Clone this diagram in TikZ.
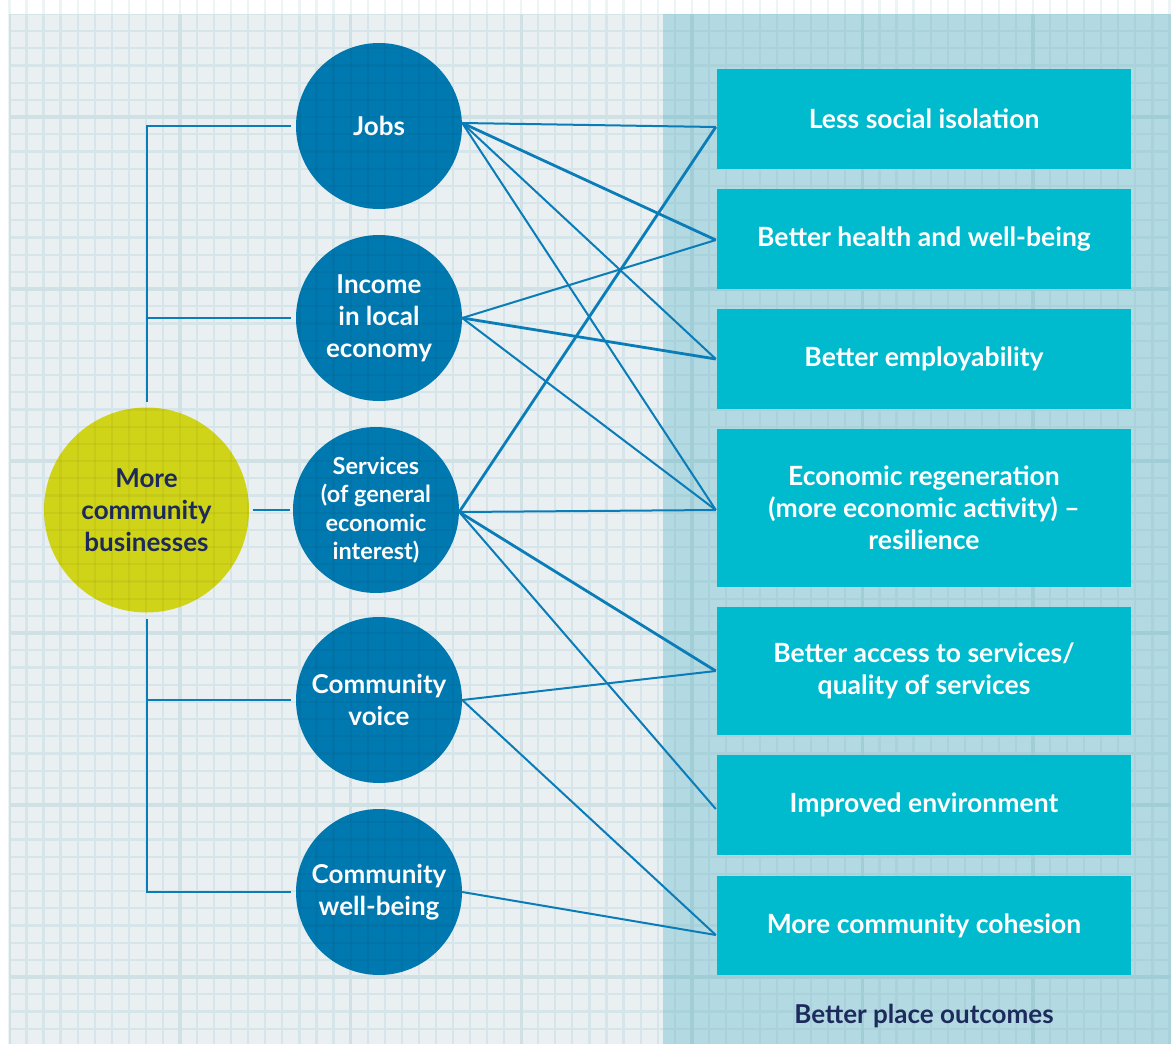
\documentclass[tikz,border=0pt]{standalone}
\usepackage{fontspec}
\setmainfont{Lato}
\definecolor{bgmain}{HTML}{EAF0F2}
\definecolor{gridfaint}{HTML}{EDF4F5}
\definecolor{gridminor}{HTML}{D6E5E9}
\definecolor{gridmajor}{HTML}{D0E1E5}
\definecolor{panel}{HTML}{B3DAE2}
\definecolor{panelgrid}{HTML}{A9D2DB}
\definecolor{panelmajor}{HTML}{A1CDD6}
\definecolor{boxc}{HTML}{00BACE}
\definecolor{circ}{HTML}{0079B0}
\definecolor{yell}{HTML}{D0D419}
\definecolor{navy}{HTML}{1D2A5C}
\definecolor{linec}{HTML}{0A7DB8}
\tikzset{
  conn/.style={draw=linec, line width=2pt},
  thickconn/.style={draw=linec, line width=2.8pt},
  bubble/.style={circle, fill=circ, minimum size=166pt, inner sep=0pt, text=white,
    font=\bfseries\fontsize{26}{32}\selectfont, align=center},
  outbox/.style={rectangle, fill=boxc, minimum width=414pt, inner sep=0pt, text=white,
    font=\bfseries\fontsize{26.5}{32}\selectfont, align=center},
  gridl/.style={line width=2.2pt},
  gridL/.style={line width=3.4pt},
}
\begin{document}
\begin{tikzpicture}[x=1pt, y=-1pt]
\useasboundingbox (0,0) rectangle (1171,1044);
% background
\fill[white] (0,0) rectangle (1171,1044);
\foreach \k in {0,...,68} {\pgfmathsetmacro\gx{9.4+17.06*\k}
  \draw[gridfaint, gridl] (\gx,0) -- (\gx,1044);}
\fill[bgmain] (9,14) rectangle (1171,1044);
\begin{scope}
  \clip (9,14) rectangle (1171,1044);
  \foreach \k in {0,...,68} {\pgfmathsetmacro\gx{9.4+17.06*\k}
    \draw[gridminor, gridl] (\gx,0) -- (\gx,1044);}
  \foreach \k in {0,...,60} {\pgfmathsetmacro\gy{13.8+17.2*\k}
    \draw[gridminor, gridl] (0,\gy) -- (1171,\gy);}
  \foreach \k in {0,10,...,60} {\pgfmathsetmacro\gx{9.4+17.06*\k}
    \draw[gridmajor, gridL] (\gx,0) -- (\gx,1044);}
  \foreach \k in {6,16,...,56} {\pgfmathsetmacro\gy{13.8+17.2*\k}
    \draw[gridmajor, gridL] (0,\gy) -- (1171,\gy);}
\end{scope}
\fill[panel] (663,14) rectangle (1171,1044);
\begin{scope}
  \clip (663,14) rectangle (1171,1044);
  \foreach \k in {0,...,68} {\pgfmathsetmacro\gx{9.4+17.06*\k}
    \draw[panelgrid, gridl] (\gx,0) -- (\gx,1044);}
  \foreach \k in {0,...,60} {\pgfmathsetmacro\gy{13.8+17.2*\k}
    \draw[panelgrid, gridl] (0,\gy) -- (1171,\gy);}
  \foreach \k in {0,10,...,60} {\pgfmathsetmacro\gx{9.4+17.06*\k}
    \draw[panelmajor, gridL] (\gx,0) -- (\gx,1044);}
  \foreach \k in {6,16,...,56} {\pgfmathsetmacro\gy{13.8+17.2*\k}
    \draw[panelmajor, gridL] (0,\gy) -- (1171,\gy);}
\end{scope}

% outcome boxes
\node[outbox, minimum height=100pt] (lsi)  at (924,119)   {Less social isolation};
\node[outbox, minimum height=100pt] (bh)   at (924,239)   {Better health and well-being};
\node[outbox, minimum height=100pt] (be)   at (924,359)   {Better employability};
\node[outbox, minimum height=158pt] (er)   at (924,508)   {Economic regeneration\\(more economic activity) --\\resilience};
\node[outbox, minimum height=128pt] (basq) at (924,671)   {Better access to services/\\quality of services};
\node[outbox, minimum height=100pt] (ie)   at (924,805)   {Improved environment};
\node[outbox, minimum height=99pt]  (mcc)  at (924,925.5) {More community cohesion};
\node[text=navy, font=\bfseries\fontsize{26}{30}\selectfont] (bpo) at (924,1016) {Better place outcomes};

% circles
\node[circle, fill=yell, minimum size=205pt, inner sep=0pt, text=navy, align=center,
  font=\bfseries\fontsize{26}{32}\selectfont] (mcb) at (146.5,510) {More\\community\\businesses};
\node[bubble] (jobs) at (379,126) {Jobs};
\node[bubble] (income) at (379,318) {Income\\in local\\economy};
\node[bubble, font=\bfseries\fontsize{23.5}{28.5}\selectfont] (services) at (376,510) {Services\\(of general\\economic\\interest)};
\node[bubble] (cv) at (379,700) {Community\\voice};
\node[bubble] (cwb) at (379,892) {Community\\well-being};

% faint grid over circles
\begin{scope}
  \clip (146.5,510) circle (102.5) (379,126) circle (83) (379,318) circle (83)
        (376,510) circle (83) (379,700) circle (83) (379,892) circle (83);
  \foreach \k in {0,...,30} {\pgfmathsetmacro\gx{9.4+17.06*\k}
    \draw[black, opacity=0.04, gridl] (\gx,0) -- (\gx,1044);}
  \foreach \k in {0,...,60} {\pgfmathsetmacro\gy{13.8+17.2*\k}
    \draw[black, opacity=0.04, gridl] (0,\gy) -- (600,\gy);}
\end{scope}

% tree connectors
\draw[conn] ([xshift=-5pt]jobs.west) -| ([yshift=5pt]mcb.north);
\draw[conn] ([xshift=-5pt]income.west) -- (mcb.north |- income.west);
\draw[conn] ([xshift=-5pt]cwb.west) -| ([yshift=-6pt]mcb.south);
\draw[conn] ([xshift=-5pt]cv.west) -- (mcb.south |- cv.west);
\draw[conn] ([xshift=4pt]mcb.east) -- ([xshift=-3pt]services.west);

% cross connectors
\draw[conn]      ([yshift=3pt]jobs.east) -- ([xshift=-1pt,yshift=-8pt]lsi.west);
\draw[thickconn] ([yshift=3pt]jobs.east) -- ([xshift=-1pt,yshift=-1pt]bh.west);
\draw[conn]      ([yshift=3pt]jobs.east) -- ([xshift=-1pt]be.west);
\draw[conn]      ([yshift=3pt]jobs.east) -- ([xshift=-1pt,yshift=-2pt]er.west);
\draw[conn]      (income.east) -- ([xshift=-1pt,yshift=-1pt]bh.west);
\draw[thickconn] (income.east) -- ([xshift=-1pt]be.west);
\draw[conn]      (income.east) -- ([xshift=-1pt,yshift=-2pt]er.west);
\draw[thickconn] ([yshift=-2pt]services.east) -- ([xshift=-1pt,yshift=-8pt]lsi.west);
\draw[conn]      ([yshift=-2pt]services.east) -- ([xshift=-1pt,yshift=-2pt]er.west);
\draw[thickconn] ([yshift=-2pt]services.east) -- ([xshift=-1pt]basq.west);
\draw[conn]      ([yshift=-2pt]services.east) -- ([xshift=-1pt,yshift=-4pt]ie.west);
\draw[conn]      (cv.east) -- ([xshift=-1pt]basq.west);
\draw[conn]      (cv.east) -- ([xshift=-1pt,yshift=-9.5pt]mcc.west);
\draw[conn]      (cwb.east) -- ([xshift=-1pt,yshift=-9.5pt]mcc.west);
\end{tikzpicture}
\end{document}
